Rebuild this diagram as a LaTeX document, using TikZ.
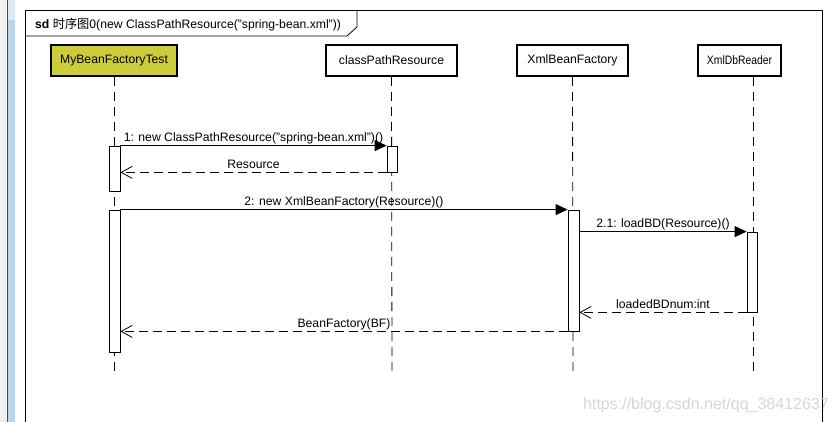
\documentclass[tikz,border=0pt]{standalone}
\usepackage{fontspec}
\setmainfont{Liberation Sans}
\newfontfamily\cjk{Noto Sans CJK SC}
\usetikzlibrary{arrows.meta}
\definecolor{headfill}{RGB}{204,204,60}
\definecolor{stripgray}{RGB}{240,240,240}
\definecolor{stripblue}{RGB}{188,213,236}
\definecolor{stripblue2}{RGB}{220,233,245}
\tikzset{
  every node/.style={font=\fontsize{12.2}{14}\selectfont, inner sep=0pt},
  head/.style={draw, line width=2pt, fill=white, minimum height=31pt},
  lifeline/.style={line width=0.8pt, dash pattern=on 9pt off 6pt},
  act/.style={draw, line width=0.8pt, fill=white, minimum width=10pt},
  call/.style={line width=0.8pt, -{Triangle[length=12pt,width=11pt]}},
  reply/.style={line width=0.8pt, dash pattern=on 9pt off 5pt, -{Straight Barb[length=11pt,width=12pt]}},
  msg/.style={midway, anchor=base, yshift=4pt},
}
\begin{document}
\begin{tikzpicture}[x=1pt,y=-1pt]
\useasboundingbox (0,0) rectangle (838,422);
\fill[white] (0,0) rectangle (838,422);
% left window strip
\fill[stripgray] (0,0) rectangle (6.5,422);
\fill[black!70] (6.5,0) rectangle (7.6,422);
\fill[stripblue] (8,0) rectangle (15,422);
\fill[stripblue2] (8,0) rectangle (15,20);
% frame
\draw[line width=0.8pt] (25,422) -- (25,10) -- (822,10) -- (822,422);
\draw[line width=0.8pt] (25,36) -- (347,36) -- (357,27) -- (357,10);
\node[anchor=base west] (title) at (35,29) {\textbf{sd} {\cjk 时序图}0(new ClassPathResource("spring-bean.xml"))};
% heads
\node[head, fill=headfill, minimum width=126pt] (mbt) at (114,60.5) {MyBeanFactoryTest};
\node[head, minimum width=131pt] (cpr) at (391.5,60.5) {classPathResource};
\node[head, minimum width=111pt] (xbf) at (572.5,60.5) {XmlBeanFactory};
\node[head, minimum width=83pt] (xdr) at (739.5,60.5) {\scalebox{0.85}[1]{XmlDbReader}};
% lifelines
\coordinate (mbtEnd) at (114,375);
\coordinate (cprEnd) at (392,375);
\coordinate (xbfEnd) at (573,375);
\coordinate (xdrTop) at (753,77);
\coordinate (xdrEnd) at (753,375);
\draw[lifeline] (mbt.south) -- (mbtEnd);
\draw[lifeline] (cpr.south) -- (cprEnd);
\draw[lifeline] (xbf.south) -- (xbfEnd);
\draw[lifeline] (xdrTop) -- (xdrEnd);
% activations
\node[act, minimum width=11pt, minimum height=45pt] (a1) at (114.5,168.5) {};
\node[act, minimum height=26pt] (c1) at (392,159) {};
\node[act, minimum width=11pt, minimum height=142pt] (a2) at (114.5,281) {};
\node[act, minimum width=11pt, minimum height=121pt] (x1) at (573.5,270.5) {};
\node[act, minimum height=80pt] (r1) at (752,272) {};
% messages
\draw[call] (a1.north east) -- (c1.north west) node[msg] {1: new ClassPathResource("spring-bean.xml")()};
\draw[reply] (c1.south west) -- (c1.south west -| a1.east) node[msg] {Resource};
\draw[call] (a2.north east) -- (x1.north west) node[msg] {2: new XmlBeanFactory(Resource)()};
\draw[call] (x1.east |- r1.north) -- (r1.north west) node[msg] {2.1: loadBD(Resource)()};
\draw[reply] (r1.south west) -- (r1.south west -| x1.east) node[msg] {loadedBDnum:int};
\draw[reply] (x1.south west) -- (x1.south west -| a2.east) node[msg] {BeanFactory(BF)};
% watermark
\node[anchor=base west, text=black!16, font=\fontsize{16}{18}\selectfont] (wm) at (583,409) {https://blog.csdn.net/qq\_38412637};
\end{tikzpicture}
\end{document}
